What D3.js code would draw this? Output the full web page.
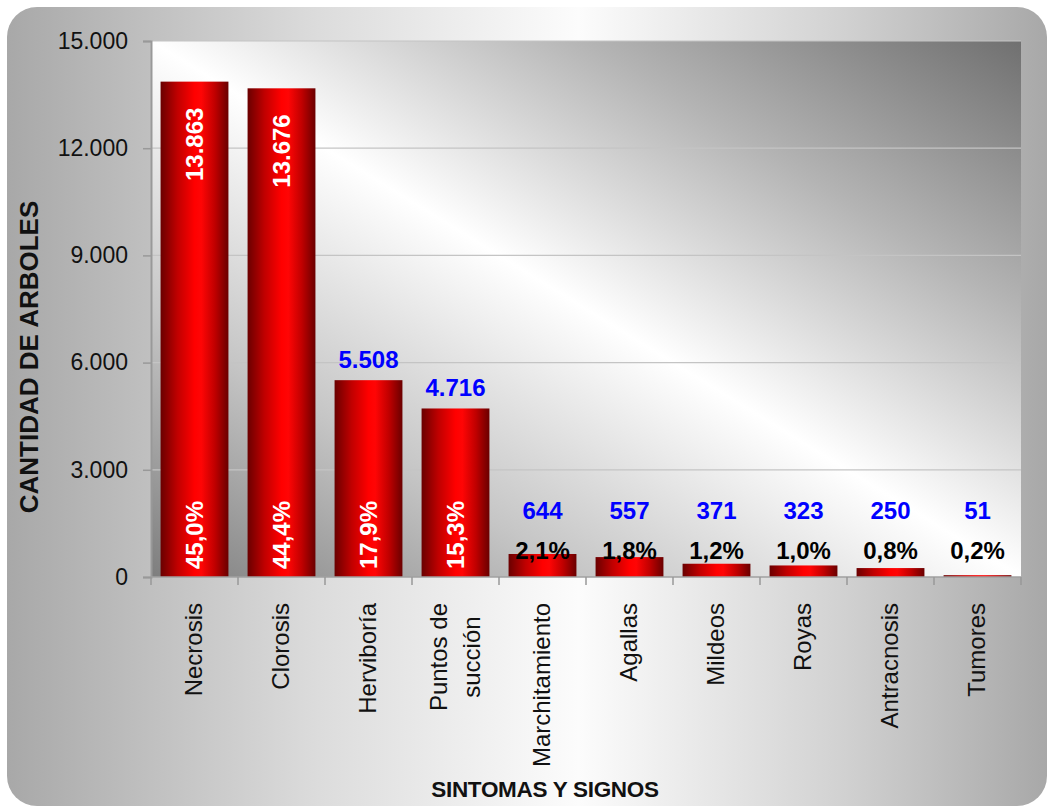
<!DOCTYPE html>
<html><head><meta charset="utf-8">
<script src="https://cdn.jsdelivr.net/npm/d3@7"></script>
<style>
body{margin:0;background:#fff}
svg{display:block}
text{font-family:"Liberation Sans",Arial,Helvetica,sans-serif}
</style></head>
<body><svg id="c" width="1047" height="806"></svg>
<script>
const categories = ["Necrosis","Clorosis","Herviboría","Puntos de\nsucción","Marchitamiento","Agallas","Mildeos","Royas","Antracnosis","Tumores"];
const values = [13863,13676,5508,4716,644,557,371,323,250,51];
const percents = ["45,0%","44,4%","17,9%","15,3%","2,1%","1,8%","1,2%","1,0%","0,8%","0,2%"];
const yTicks = [0,3000,6000,9000,12000,15000];
const yTitle = "CANTIDAD DE ARBOLES";
const xTitle = "SINTOMAS Y SIGNOS";

const svg = d3.select("#c");
const defs = svg.append("defs");

// background gradient
const bg = defs.append("linearGradient").attr("id","bgG").attr("x1","0").attr("y1","0").attr("x2","1").attr("y2","0");
[[0,"#a8a8a8"],[0.3,"#dcdcdc"],[0.55,"#fcfcfc"],[0.8,"#d2d2d2"],[1,"#a8a8a8"]].forEach(s=>bg.append("stop").attr("offset",s[0]).attr("stop-color",s[1]));
// plot gradient (diagonal)
const pg = defs.append("linearGradient").attr("id","plotG").attr("x1","0").attr("y1","1").attr("x2","1").attr("y2","0");
[[0,"#7e7e7e"],[0.25,"#c6c6c6"],[0.5,"#ffffff"],[0.75,"#b4b4b4"],[1,"#707070"]].forEach(s=>pg.append("stop").attr("offset",s[0]).attr("stop-color",s[1]));
// bar gradient
const bgr = defs.append("linearGradient").attr("id","barG").attr("x1","0").attr("y1","0").attr("x2","1").attr("y2","0");
[[0,"#6a0000"],[0.25,"#c00000"],[0.5,"#ff0000"],[0.6,"#ff0505"],[0.8,"#c00000"],[1,"#6a0000"]].forEach(s=>bgr.append("stop").attr("offset",s[0]).attr("stop-color",s[1]));

svg.append("rect").attr("x",7).attr("y",7).attr("width",1040).attr("height",799).attr("rx",30).attr("ry",30).attr("fill","url(#bgG)");

const L=151,R=1021,T=41,B=577;
const x = d3.scaleBand().domain(categories).range([L,R]).paddingInner(0.22).paddingOuter(0.11);
const y = d3.scaleLinear().domain([0,15000]).range([B,T]);
const loc = d3.formatLocale({decimal:",",thousands:".",grouping:[3],currency:["",""]});
const fmt = loc.format(",d");

svg.append("rect").attr("x",L).attr("y",T).attr("width",R-L).attr("height",B-T).attr("fill","url(#plotG)");

// gridlines
svg.append("g").selectAll("line").data(yTicks.filter(d=>d>0)).join("line")
  .attr("x1",L).attr("x2",R).attr("y1",d=>y(d)).attr("y2",d=>y(d))
  .attr("stroke","#c4c4c4").attr("stroke-width",1.2);

// bars
svg.append("g").selectAll("rect").data(values).join("rect")
  .attr("x",(d,i)=>x(categories[i])).attr("width",x.bandwidth())
  .attr("y",d=>y(d)).attr("height",d=>y(0)-y(d)).attr("fill","url(#barG)");

// y axis
const ya = svg.append("g").attr("transform",`translate(${L},0)`)
  .call(d3.axisLeft(y).tickValues(yTicks).tickFormat(fmt).tickSize(8).tickPadding(15));
ya.select(".domain").attr("stroke","#999").attr("stroke-width",2);
ya.selectAll(".tick line").attr("stroke","#999").attr("stroke-width",1.5);
ya.selectAll(".tick text").attr("font-size",23).attr("fill","#111").attr("font-family",'"Liberation Sans",Arial,sans-serif');

// x axis
const step = x.step(), off=(step-x.bandwidth())/2;
const bounds = categories.map(c=>x(c)-off).concat([x(categories[categories.length-1])+x.bandwidth()+off]);
svg.append("line").attr("x1",L).attr("x2",R).attr("y1",B).attr("y2",B).attr("stroke","#a0a0a0").attr("stroke-width",1.5);
svg.append("g").selectAll("line").data(bounds).join("line")
  .attr("x1",d=>d).attr("x2",d=>d).attr("y1",B).attr("y2",B+8).attr("stroke","#999").attr("stroke-width",1.5);

// category labels
const cl = svg.append("g").selectAll("g").data(categories).join("g")
  .attr("transform",c=>`translate(${x(c)+x.bandwidth()/2},603) rotate(-90)`);
cl.each(function(c){
  const lines = c.split("\n"), n=lines.length, g=d3.select(this);
  const ts = lines.map((ln,i)=>g.append("text").attr("x",0).attr("y",(i-(n-1)/2)*33).attr("dy","0.33em")
     .attr("text-anchor","end").attr("font-size",24).attr("fill","#111").text(ln));
  if(n>1){
    const lens = ts.map(t=>t.node().getComputedTextLength());
    const mx = Math.max(...lens);
    ts.forEach((t,i)=>t.attr("x",-(mx-lens[i])/2));
  }
});

// labels
const big = d=> (y(0)-y(d))>400;
const mid = d=> (y(0)-y(d))>100;
const lab = svg.append("g").attr("font-weight","bold").attr("font-size",24);
values.forEach((v,i)=>{
  const cx = x(categories[i])+x.bandwidth()/2;
  if(big(v)){
    lab.append("text").attr("transform",`translate(${cx},${y(v)+26}) rotate(-90)`).attr("dy","0.35em")
      .attr("text-anchor","end").attr("fill","#fff").text(fmt(v));
  } else if(mid(v)){
    lab.append("text").attr("x",cx).attr("y",y(v)-12).attr("text-anchor","middle").attr("fill","#0000ff").text(fmt(v));
  } else {
    lab.append("text").attr("x",cx).attr("y",y(0)-58).attr("text-anchor","middle").attr("fill","#0000ff").text(fmt(v));
  }
  if(mid(v)){
    lab.append("text").attr("transform",`translate(${cx},${y(0)-8}) rotate(-90)`).attr("dy","0.35em")
      .attr("text-anchor","start").attr("fill","#fff").text(percents[i]);
  } else {
    lab.append("text").attr("x",cx).attr("y",y(0)-18).attr("text-anchor","middle").attr("fill","#000").text(percents[i]);
  }
});

// axis titles
svg.append("text").attr("transform","translate(29,357) rotate(-90)").attr("dy","0.35em").attr("text-anchor","middle")
  .attr("font-weight","bold").attr("font-size",26).attr("fill","#111").text(yTitle);
svg.append("text").attr("x",545).attr("y",797).attr("text-anchor","middle")
  .attr("font-weight","bold").attr("font-size",22.5).attr("letter-spacing",-0.3).attr("fill","#111").text(xTitle);
</script></body></html>
